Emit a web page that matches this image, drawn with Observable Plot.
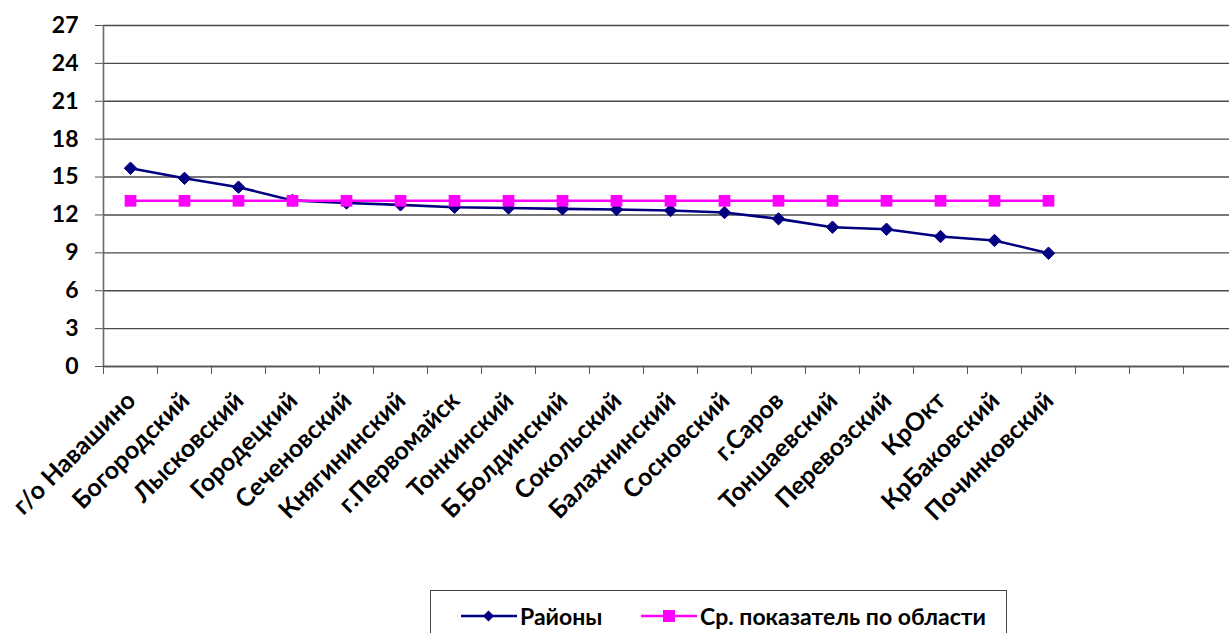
<!DOCTYPE html>
<html>
<head>
<meta charset="utf-8">
<script src="https://cdn.jsdelivr.net/npm/d3@7"></script>
<script src="https://cdn.jsdelivr.net/npm/@observablehq/plot@0.6"></script>
<style>
  html, body { margin: 0; padding: 0; background: #fff; overflow: hidden; }
  body { width: 1229px; height: 633px; position: relative; font-family: Lato, "Open Sans", sans-serif; }
  #chart { position: absolute; left: 0; top: 0; }
  #legend { position: absolute; left: 430px; top: 590px; width: 577px; height: 70px; border: 1px solid #404040; box-sizing: border-box; }
  .item { position: absolute; top: 11px; display: flex; align-items: center; font-weight: bold; font-size: 23px; color: #000; }
  .item svg { display: block; margin-right: 3px; }
</style>
</head>
<body>
<div id="chart"></div>
<div id="legend"></div>
<script>
const categories = ["г/о Навашино","Богородский","Лысковский","Городецкий","Сеченовский","Княгининский","г.Первомайск","Тонкинский","Б.Болдинский","Сокольский","Балахнинский","Сосновский","г.Саров","Тоншаевский","Перевозский","КрОкт","КрБаковский","Починковский"];
const rayony = [15.7,14.9,14.2,13.15,12.95,12.8,12.61,12.55,12.48,12.43,12.35,12.19,11.69,11.03,10.87,10.29,9.98,8.97];
const average = [13.12,13.12,13.12,13.12,13.12,13.12,13.12,13.12,13.12,13.12,13.12,13.12,13.12,13.12,13.12,13.12,13.12,13.12];
const yTicks = [0,3,6,9,12,15,18,21,24,27];
const slotCount = 21;
const seriesNames = ["Районы", "Ср. показатель по области"];
const seriesColors = ["#000080", "#FF00FF"];

const rows = categories.map((c, i) => ({i: i + 0.5, name: c, r: rayony[i], a: average[i]}));

const chart = Plot.plot({
  width: 1229,
  height: 560,
  marginLeft: 103,
  marginRight: 0,
  marginTop: 25,
  marginBottom: 194,
  style: {fontFamily: "Lato, 'Open Sans', sans-serif", background: "transparent", overflow: "visible"},
  x: {type: "linear", domain: [0, slotCount], range: [103, 103 + 54 * slotCount]},
  y: {domain: [0, 27]},
  marks: [
    Plot.gridY(yTicks, {stroke: "#4a4a4a", strokeOpacity: 1, strokeWidth: 1.4}),
    Plot.axisY(yTicks, {tickSize: 8, tickPadding: 17, stroke: "#555", fontSize: 23, fontWeight: "bold", fill: "#000", label: null}),
    Plot.axisX(d3.range(0, slotCount + 1), {tickSize: 8, tickFormat: () => "", stroke: "#555", label: null}),
    Plot.ruleX([0], {stroke: "#6a6a6a", strokeWidth: 1.6}),
    Plot.ruleY([0], {stroke: "#555", strokeWidth: 1.6}),
    Plot.text(rows, {x: "i", y: () => 0, text: "name", rotate: -45, textAnchor: "end", lineAnchor: "middle", dx: 1, dy: 30, fontSize: 25, fontWeight: "bold", fill: "#000"}),
    Plot.line(rows, {x: "i", y: "r", stroke: seriesColors[0], strokeWidth: 2.6}),
    Plot.dot(rows, {x: "i", y: "r", symbol: "diamond2", r: 5.6, fill: seriesColors[0], stroke: seriesColors[0], strokeWidth: 1}),
    Plot.line(rows, {x: "i", y: "a", stroke: seriesColors[1], strokeWidth: 2.6}),
    Plot.dot(rows, {x: "i", y: "a", symbol: "square", r: 6.6, fill: seriesColors[1], stroke: "none"})
  ]
});
document.getElementById("chart").appendChild(chart);

// legend
const legend = document.getElementById("legend");
const itemsPos = [30, 210];
seriesNames.forEach((name, k) => {
  const div = document.createElement("div");
  div.className = "item";
  div.style.left = itemsPos[k] + "px";
  const marker = k === 0
    ? `<path d="M27.5,5.5 L33,11 L27.5,16.5 L22,11 Z" fill="${seriesColors[0]}"/>`
    : `<rect x="22" y="5" width="12" height="12" fill="${seriesColors[1]}"/>`;
  div.innerHTML = `<svg width="56" height="22"><line x1="0" y1="11" x2="56" y2="11" stroke="${seriesColors[k]}" stroke-width="2.6"/>${marker}</svg><span>${name}</span>`;
  legend.appendChild(div);
});
</script>
</body>
</html>
